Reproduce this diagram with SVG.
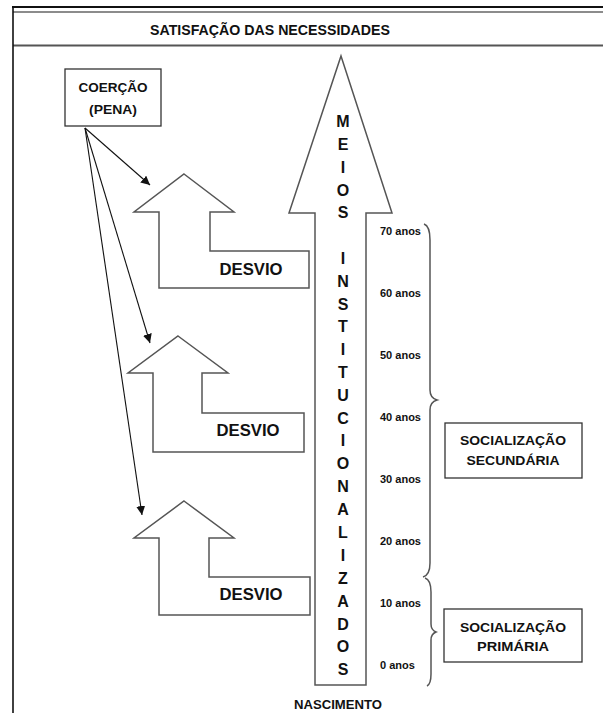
<svg xmlns="http://www.w3.org/2000/svg" width="603" height="713" viewBox="0 0 603 713">
<style>
.t{font-family:"Liberation Sans",Arial,sans-serif;font-weight:bold;fill:#111}
.arr{fill:#fff;stroke:#555;stroke-width:1.5;stroke-linejoin:miter}
.box{fill:#fff;stroke:#333;stroke-width:1.3}
.con{stroke:#111;stroke-width:1.1;fill:none}
.br{stroke:#555;stroke-width:1.5;fill:none}
.yr{font-size:11px}
.vl{font-size:16px;text-anchor:middle}
</style>
<defs>
<marker id="ah" viewBox="0 0 10 10" refX="10" refY="5" markerWidth="9" markerHeight="9" markerUnits="userSpaceOnUse" orient="auto">
<path d="M0,0 L10,5 L0,10 Z" fill="#111"/>
</marker>
</defs>
<rect width="603" height="713" fill="#fff"/>
<g id="frame">
<line x1="12" y1="7" x2="603" y2="7" stroke="#111" stroke-width="2"/>
<line x1="13" y1="12" x2="603" y2="12" stroke="#666" stroke-width="1.5"/>
<line x1="13" y1="45.5" x2="603" y2="45.5" stroke="#555" stroke-width="2"/>
<line x1="13" y1="6" x2="13" y2="713" stroke="#111" stroke-width="1.6"/>
<text class="t" x="270" y="35" font-size="15.5" text-anchor="middle" textLength="240" lengthAdjust="spacingAndGlyphs">SATISFAÇÃO DAS NECESSIDADES</text>
</g>
<g id="meios">
<polygon class="arr" points="341,56 392,213 366,213 366,685 315,685 315,213 289,213"/>
<text class="t vl" x="343" y="127">M</text>
<text class="t vl" x="343" y="150">E</text>
<text class="t vl" x="343" y="172.5">I</text>
<text class="t vl" x="343" y="195.5">O</text>
<text class="t vl" x="343" y="218">S</text>
<text class="t vl" x="343" y="264">I</text>
<text class="t vl" x="343" y="286.5">N</text>
<text class="t vl" x="343" y="309.5">S</text>
<text class="t vl" x="343" y="332">T</text>
<text class="t vl" x="343" y="355">I</text>
<text class="t vl" x="343" y="378">T</text>
<text class="t vl" x="343" y="401">U</text>
<text class="t vl" x="343" y="423.5">C</text>
<text class="t vl" x="343" y="446">I</text>
<text class="t vl" x="343" y="469">O</text>
<text class="t vl" x="343" y="492">N</text>
<text class="t vl" x="343" y="515">A</text>
<text class="t vl" x="343" y="537.5">L</text>
<text class="t vl" x="343" y="560.5">I</text>
<text class="t vl" x="343" y="583.5">Z</text>
<text class="t vl" x="343" y="606.5">A</text>
<text class="t vl" x="343" y="629.5">D</text>
<text class="t vl" x="343" y="652">O</text>
<text class="t vl" x="343" y="675">S</text>
</g>
<g id="coercao">
<rect class="box" x="65" y="69" width="96" height="57"/>
<text class="t" x="113" y="92" font-size="13.5" text-anchor="middle" textLength="69" lengthAdjust="spacingAndGlyphs">COERÇÃO</text>
<text class="t" x="113" y="114" font-size="13.5" text-anchor="middle" textLength="48" lengthAdjust="spacingAndGlyphs">(PENA)</text>
</g>
<g id="desvio1">
<polygon class="arr" points="184,174 234,212 210,212 210,251 309,251 309,288 159,288 159,212 134,212"/>
<text class="t" x="251" y="275" font-size="16.5" text-anchor="middle" textLength="63" lengthAdjust="spacingAndGlyphs">DESVIO</text>
</g>
<g id="desvio2">
<polygon class="arr" points="178,336 228,373 202,373 202,413 304,413 304,452 153,452 153,373 128,373"/>
<text class="t" x="248" y="436" font-size="16.5" text-anchor="middle" textLength="63" lengthAdjust="spacingAndGlyphs">DESVIO</text>
</g>
<g id="desvio3">
<polygon class="arr" points="184,501 234,538 209,538 209,577 310,577 310,615 159,615 159,538 134,538"/>
<text class="t" x="251" y="600" font-size="16.5" text-anchor="middle" textLength="63" lengthAdjust="spacingAndGlyphs">DESVIO</text>
</g>
<g id="idades">
<text class="t yr" x="380" y="235">70 anos</text>
<text class="t yr" x="380" y="297">60 anos</text>
<text class="t yr" x="380" y="359">50 anos</text>
<text class="t yr" x="380" y="421">40 anos</text>
<text class="t yr" x="380" y="483">30 anos</text>
<text class="t yr" x="380" y="545">20 anos</text>
<text class="t yr" x="380" y="607">10 anos</text>
<text class="t yr" x="380" y="669">0 anos</text>
</g>
<g id="chaves">
<path class="br" d="M424,224 Q430,226 430,240 L430,390 Q430,398 437,400 Q430,402 430,410 L430,563 Q430,575 423,577"/>
<path class="br" d="M425,578 Q431,580 431,592 L431,624 Q431,630 436,632 Q431,634 431,640 L431,674 Q431,684 427,686"/>
</g>
<g id="secundaria">
<rect class="box" x="445" y="423" width="137" height="55"/>
<text class="t" x="513" y="445" font-size="13.5" text-anchor="middle" textLength="106" lengthAdjust="spacingAndGlyphs">SOCIALIZAÇÃO</text>
<text class="t" x="513" y="465" font-size="13.5" text-anchor="middle" textLength="93" lengthAdjust="spacingAndGlyphs">SECUNDÁRIA</text>
</g>
<g id="primaria">
<rect class="box" x="444" y="609" width="138" height="53"/>
<text class="t" x="513" y="632" font-size="13.5" text-anchor="middle" textLength="106" lengthAdjust="spacingAndGlyphs">SOCIALIZAÇÃO</text>
<text class="t" x="513" y="651" font-size="13.5" text-anchor="middle" textLength="72" lengthAdjust="spacingAndGlyphs">PRIMÁRIA</text>
</g>
<g id="nascimento">
<text class="t" x="338" y="709" font-size="12" text-anchor="middle" textLength="88" lengthAdjust="spacingAndGlyphs">NASCIMENTO</text>
</g>
<g id="connectors">
<line class="con" x1="85" y1="128" x2="150" y2="185" marker-end="url(#ah)"/>
<line class="con" x1="85" y1="128" x2="150" y2="343" marker-end="url(#ah)"/>
<line class="con" x1="85" y1="128" x2="142" y2="515" marker-end="url(#ah)"/>
</g>
</svg>
